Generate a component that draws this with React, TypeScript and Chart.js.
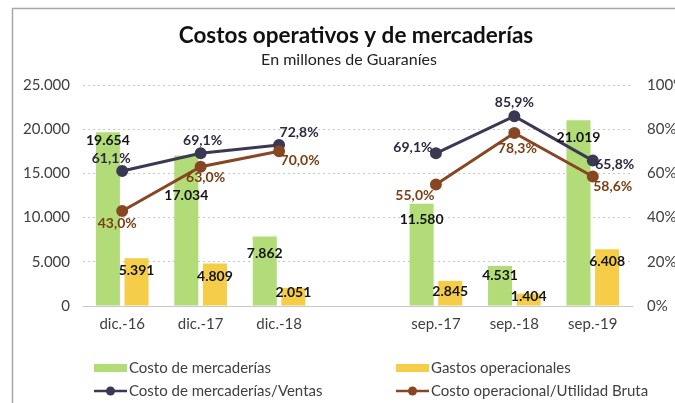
import React, { useEffect, useRef } from "react";
import { Chart, registerables } from "chart.js";

Chart.register(...registerables);

const categories = ["dic.-16", "dic.-17", "dic.-18", "", "sep.-17", "sep.-18", "sep.-19"];
const costoMercaderias = [19654, 17034, 7862, null, 11580, 4531, 21019];
const gastosOperacionales = [5391, 4809, 2051, null, 2845, 1404, 6408];
const mercaderiasVentas = [61.1, 69.1, 72.8, null, 69.1, 85.9, 65.8];
const operacionalUtilidad = [43.0, 63.0, 70.0, null, 55.0, 78.3, 58.6];
const leftTicks = [0, 5000, 10000, 15000, 20000, 25000];
const rightTicks = [0, 20, 40, 60, 80, 100];

const TITLE = "Costos operativos y de mercaderías";
const SUBTITLE = "En millones de Guaraníes";

const FONT = "Lato, 'Open Sans', sans-serif";
const GREEN = "#b2dc78";
const YELLOW = "#f5cd48";
const NAVY = "#3a3852";
const BROWN = "#874722";

// label offsets (dx, dy) relative to each element's anchor
const offGreen = [[0, 8], [0, 40], [0, 17], [0, 0], [0, 16], [0, 10], [0, 17]];
const offYellow = [[0, 12], [0, 13], [0, 5], [0, 0], [0, 11], [0, 3], [0, 12]];
const offNavy = [[-11, -12], [2, -13], [20, -13], [0, 0], [-23, -6], [0, -14], [22, 4]];
const offBrown = [[-5, 13], [5, 11], [21, 9], [0, 0], [-21, 11], [3, 16], [20, 10]];

const fmtThousands = (v: number) =>
  String(Math.round(v)).replace(/\B(?=(\d{3})+(?!\d))/g, ".");
const fmtPct = (v: number) => v.toFixed(1).replace(".", ",") + "%";

const labelPlugin = {
  id: "valueLabels",
  afterDatasetsDraw(chart: any) {
    const ctx = chart.ctx;
    ctx.save();
    ctx.font = `bold 14px ${FONT}`;
    ctx.textAlign = "center";
    ctx.textBaseline = "middle";
    chart.data.datasets.forEach((ds: any, di: number) => {
      const meta = chart.getDatasetMeta(di);
      ds.data.forEach((v: number | null, i: number) => {
        if (v === null || v === undefined) return;
        const el = meta.data[i];
        if (!el) return;
        const [dx, dy] = ds.labelOffsets[i];
        ctx.fillStyle = ds.labelColor;
        const text = ds.type === "line" ? fmtPct(v) : fmtThousands(v);
        ctx.fillText(text, el.x + dx, el.y + dy);
      });
    });
    ctx.restore();
  },
};

const decorPlugin = {
  id: "decor",
  beforeDraw(chart: any) {
    const ctx = chart.ctx;
    ctx.save();
    ctx.fillStyle = "#ffffff";
    ctx.fillRect(0, 0, chart.width, chart.height);
    ctx.strokeStyle = "#a8a8a8";
    ctx.lineWidth = 1.5;
    ctx.beginPath();
    ctx.moveTo(12.5, chart.height);
    ctx.lineTo(12.5, 8.5);
    ctx.lineTo(chart.width, 8.5);
    ctx.stroke();
    ctx.restore();
  },
  afterDraw(chart: any) {
    const ctx = chart.ctx;
    ctx.save();
    ctx.textAlign = "center";
    ctx.textBaseline = "middle";
    ctx.fillStyle = "#111111";
    ctx.font = `bold 22.5px ${FONT}`;
    ctx.fillText(TITLE, 356, 36);
    ctx.fillStyle = "#222222";
    ctx.font = `16px ${FONT}`;
    ctx.fillText(SUBTITLE, 349, 60);

    // legend
    const ds = chart.data.datasets;
    const cols = [94, 396];
    const rows = [368, 391];
    const order = [0, 1, 2, 3];
    ctx.font = `15px ${FONT}`;
    ctx.textAlign = "left";
    order.forEach((di, k) => {
      const d = ds[di];
      const x = cols[k % 2];
      const y = rows[Math.floor(k / 2)];
      if (d.type === "line") {
        ctx.strokeStyle = d.borderColor;
        ctx.lineWidth = 2.5;
        ctx.beginPath();
        ctx.moveTo(x, y);
        ctx.lineTo(x + 33, y);
        ctx.stroke();
        ctx.fillStyle = d.borderColor;
        ctx.beginPath();
        ctx.arc(x + 16.5, y, 4.5, 0, Math.PI * 2);
        ctx.fill();
      } else {
        ctx.fillStyle = d.backgroundColor;
        ctx.fillRect(x, y - 4, 33, 8);
      }
      ctx.fillStyle = "#404040";
      ctx.fillText(d.label, x + 35, y);
    });
    ctx.restore();
  },
};

export default function App() {
  const ref = useRef<HTMLCanvasElement | null>(null);
  useEffect(() => {
    if (!ref.current) return;
    const chart = new Chart(ref.current, {
      type: "bar",
      data: {
        labels: categories,
        datasets: [
          {
            type: "bar",
            label: "Costo de mercaderías",
            data: costoMercaderias,
            backgroundColor: GREEN,
            yAxisID: "y",
            order: 2,
            labelOffsets: offGreen,
            labelColor: "#141414",
          } as any,
          {
            type: "bar",
            label: "Gastos operacionales",
            data: gastosOperacionales,
            backgroundColor: YELLOW,
            yAxisID: "y",
            order: 2,
            labelOffsets: offYellow,
            labelColor: "#141414",
          } as any,
          {
            type: "line",
            label: "Costo de mercaderías/Ventas",
            data: mercaderiasVentas,
            borderColor: NAVY,
            backgroundColor: NAVY,
            pointBackgroundColor: NAVY,
            pointBorderColor: NAVY,
            borderWidth: 3,
            pointRadius: 4.5,
            spanGaps: false,
            yAxisID: "y1",
            order: 1,
            labelOffsets: offNavy,
            labelColor: "#2c2a40",
          } as any,
          {
            type: "line",
            label: "Costo operacional/Utilidad Bruta",
            data: operacionalUtilidad,
            borderColor: BROWN,
            backgroundColor: BROWN,
            pointBackgroundColor: BROWN,
            pointBorderColor: BROWN,
            borderWidth: 3,
            pointRadius: 4.5,
            spanGaps: false,
            yAxisID: "y1",
            order: 0,
            labelOffsets: offBrown,
            labelColor: "#7a3e16",
          } as any,
        ],
      },
      options: {
        responsive: false,
        animation: false,
        datasets: {
          bar: { categoryPercentage: 0.73, barPercentage: 0.84 },
        },
        layout: { padding: { top: 85, left: 0, right: 0, bottom: 0 } },
        plugins: {
          legend: { display: false },
          title: { display: false },
          tooltip: { enabled: false },
        },
        scales: {
          x: {
            type: "category",
            grid: { display: false, drawTicks: false },
            border: { display: true, color: "#c8c8c8", width: 1 },
            ticks: { color: "#404040", font: { family: FONT, size: 15 }, padding: 9 },
            afterFit: (s: any) => {
              s.height = 97;
            },
          },
          y: {
            position: "left",
            min: 0,
            max: 25000,
            afterBuildTicks: (s: any) => {
              s.ticks = leftTicks.map((v) => ({ value: v }));
            },
            ticks: {
              color: "#404040",
              font: { family: FONT, size: 15 },
              padding: 13,
              callback: (v: any) => fmtThousands(Number(v)),
            },
            grid: { color: "#c8c8c8", drawTicks: false, lineWidth: 1 },
            border: { display: false, dash: [2, 3] },
            afterFit: (s: any) => {
              s.width = 83;
            },
          },
          y1: {
            position: "right",
            min: 0,
            max: 100,
            afterBuildTicks: (s: any) => {
              s.ticks = rightTicks.map((v) => ({ value: v }));
            },
            ticks: {
              color: "#404040",
              font: { family: FONT, size: 15 },
              padding: 15,
              callback: (v: any) => v + "%",
            },
            grid: { display: false, drawTicks: false },
            border: { display: false },
            afterFit: (s: any) => {
              s.width = 43;
            },
          },
        },
      },
      plugins: [decorPlugin, labelPlugin],
    } as any);
    return () => chart.destroy();
  }, []);

  return (
    <div style={{ position: "fixed", left: 0, top: 0, width: 675, height: 403, background: "#fff" }}>
      <canvas ref={ref} width={675} height={403} style={{ display: "block" }} />
    </div>
  );
}
